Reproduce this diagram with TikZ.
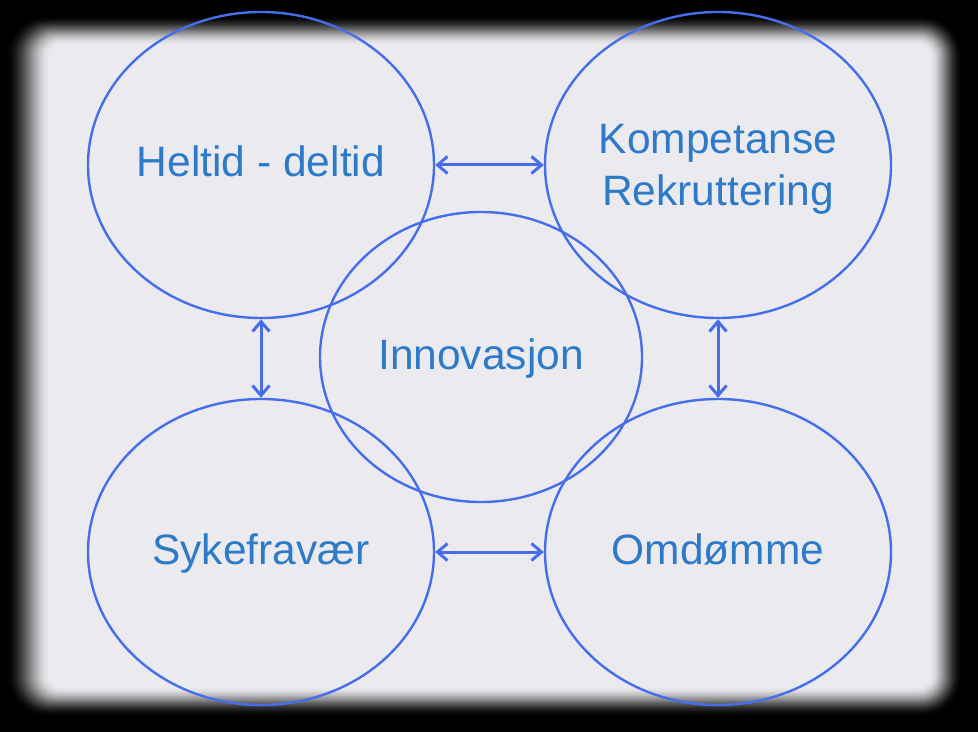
\documentclass[tikz,border=0pt]{standalone}
\usepackage{fontspec}
\setmainfont{Liberation Sans}
\usetikzlibrary{shapes.geometric,arrows.meta}
\definecolor{bggray}{RGB}{235,235,239}
\definecolor{ringblue}{RGB}{70,110,235}
\definecolor{textblue}{RGB}{45,122,200}
\tikzset{
  ring/.style={ellipse, draw=ringblue, line width=1.2pt, inner sep=-12pt,
    minimum width=173pt, minimum height=153pt, text=textblue,
    font=\fontsize{21.25}{26}\selectfont, align=center},
  oneline/.style={text height=15pt, text depth=3pt},
  link/.style={draw=ringblue, line width=1.5pt,
    {Straight Barb[length=5pt,width=8.5pt,line width=1.5pt]}-{Straight Barb[length=5pt,width=8.5pt,line width=1.5pt]}}
}
\begin{document}
\begin{tikzpicture}[x=0.5pt,y=-0.5pt]
\useasboundingbox (0,0) rectangle (978,732);
\fill[black] (0,0) rectangle (978,732);
\foreach \i in {0,...,24}{
  \pgfmathsetmacro{\t}{\i/24}
  \pgfmathsetmacro{\s}{\t*\t*(3-2*\t)}
  \pgfmathsetmacro{\mixv}{\s*100}
  \pgfmathsetmacro{\lft}{5+45*\t}
  \pgfmathsetmacro{\tp}{15+30*\t}
  \pgfmathsetmacro{\rt}{963-33*\t}
  \pgfmathsetmacro{\bt}{717-30*\t}
  \pgfmathsetmacro{\rc}{20-14*\t}
  \fill[bggray!\mixv!black, rounded corners=\rc pt] (\lft,\tp) rectangle (\rt,\bt);
}
\node[ring, oneline] (tl) at (261,165) {Heltid - deltid};
\node[ring] (tr) at (718,165) {\rule{0pt}{18.5pt}Kompetanse\\ Rekruttering};
\node[ring, oneline] (bl) at (261,552) {Sykefravær};
\node[ring, oneline] (br) at (718,552) {Omdømme};
\node[ring, oneline, minimum width=161pt, minimum height=145pt] (c) at (481,357) {Innovasjon};
\draw[link] (tl.east) -- (tr.west);
\draw[link] (bl.east) -- (br.west);
\draw[link] (tl.south) -- (bl.north);
\draw[link] (tr.south) -- (br.north);
\end{tikzpicture}
\end{document}
